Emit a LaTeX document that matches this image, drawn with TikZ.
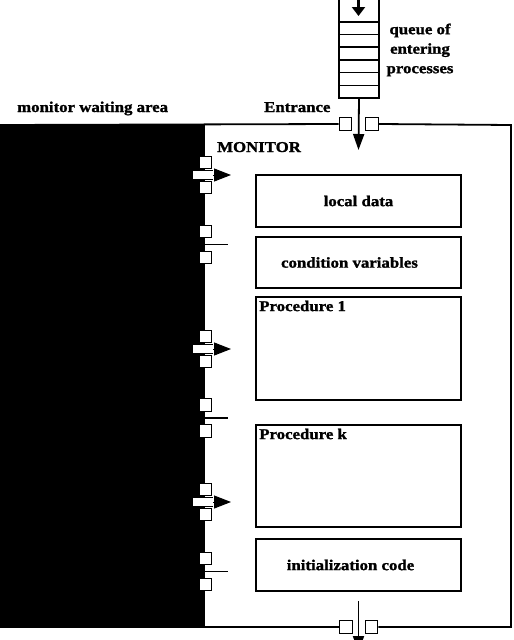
\documentclass[tikz,border=0pt]{standalone}
\usepackage{fontspec}
\newfontfamily\figfont[FakeStretch=1.12,FakeBold=1.4]{Liberation Serif}
\usetikzlibrary{arrows.meta,positioning}
\tikzset{
  >={Triangle[length=16pt,width=11pt]},
  gate/.style={draw,fill=white,line width=1.3pt,minimum size=12.5pt,inner sep=0pt},
  passage/.style={fill=white,minimum width=20pt,minimum height=9pt,inner sep=0pt},
  part/.style={draw,line width=1.8pt,minimum width=205pt,inner sep=0pt},
  lbl/.style={font={\figfont\bfseries\fontsize{15}{19.5}\selectfont},inner sep=0pt},
  wall/.style={line width=1.8pt},
  flow/.style={->,line width=#1},
  flow/.default=1.8pt,
}
\begin{document}
\begin{tikzpicture}[x=1pt,y=-1pt]
  \useasboundingbox (0,0) rectangle (514,640);
  % waiting area
  \fill (0,124) rectangle (205,627);
  % entrance queue
  \node[minimum width=40pt,minimum height=98pt,inner sep=0pt] (queue) at (359,49) {};
  \draw[wall] (queue.north west) |- (queue.south east) -- (queue.north east);
  \foreach \y in {22,34.5,47,60,72.5,85.5}
    \draw[line width=1.4pt] (339,\y) -- (379,\y);
  \coordinate (qin) at (358.5,-4);
  \coordinate (qhead) at (358.5,16);
  \draw[-{Triangle[length=9pt,width=13pt]},line width=3.5pt] (qin) -- (qhead);
  % entrance and exit gates
  \node[gate] (entl) at (345.5,124) {};
  \node[gate] (entr) at (372,124) {};
  \node[gate] (exitl) at (346,627) {};
  \node[gate] (exitr) at (371.5,627) {};
  \draw[wall] (0,125) -- (entl.west) (entr.east) -- (511,125) -- (511,627) -- (exitr.east)
    (exitl.west) -- (0,627);
  \coordinate (enthead) at (358.5,150);
  \draw[flow] (queue.south) -- (enthead);
  \coordinate (exitfrom) at (358.5,601);
  \coordinate (exithead) at (358.5,652);
  \draw[flow] (exitfrom) -- (exithead);
  % monitor parts
  \node[part,minimum height=52pt] (local) at (358.5,201) {};
  \node[part,minimum height=51pt] (cond) at (358.5,262.5) {};
  \node[part,minimum height=103pt] (proc1) at (358.5,348.5) {};
  \node[part,minimum height=102pt] (prock) at (358.5,476) {};
  \node[part,minimum height=52pt] (init) at (358.5,565) {};
  % labels
  \node[lbl,anchor=base west] (waitlbl) at (17,112) {monitor waiting area};
  \node[lbl,anchor=base west] (entlbl) at (264,112) {Entrance};
  \node[lbl,align=center] (qlbl) at (420,50) {queue of\\entering\\processes};
  \node[lbl,anchor=base west] (monlbl) at (217,152) {MONITOR};
  \node[lbl] (locallbl) at (local.center) {local data};
  \node[lbl] (condlbl) at ([xshift=-9pt]cond.center) {condition variables};
  \node[lbl,anchor=base west] (proc1lbl) at ([shift={(4,15)}]proc1.north west) {Procedure 1};
  \node[lbl,anchor=base west] (proclbl) at ([shift={(4,15)}]prock.north west) {Procedure k};
  \node[lbl] (initlbl) at ([xshift=-8pt]init.center) {initialization code};
  % doors from the waiting area
  \foreach \y [count=\i] in {175,349,502} {
    \node[gate] (in\i top) at (205.5,\y-12.5) {};
    \node[gate] (in\i bot) at (205.5,\y+12.5) {};
    \node[passage] (pass\i) at (203,\y) {};
    \draw[line width=1.3pt] (pass\i.north west) -- (pass\i.north east)
      (pass\i.south west) -- (pass\i.south east);
    \coordinate (in\i tip) at (231,\y);
    \draw[-{Triangle[length=17pt,width=13pt]},line width=1pt] (pass\i.east) -- (in\i tip);
  }
  \foreach \y [count=\i] in {244.5,418,571.5} {
    \node[gate] (out\i top) at (205.5,\y-13) {};
    \node[gate] (out\i bot) at (205.5,\y+13) {};
    \coordinate (out\i from) at (197,\y);
    \coordinate (out\i to) at (228,\y);
    \draw[line width=1.3pt] (out\i from) -- (out\i to);
  }
\end{tikzpicture}
\end{document}
